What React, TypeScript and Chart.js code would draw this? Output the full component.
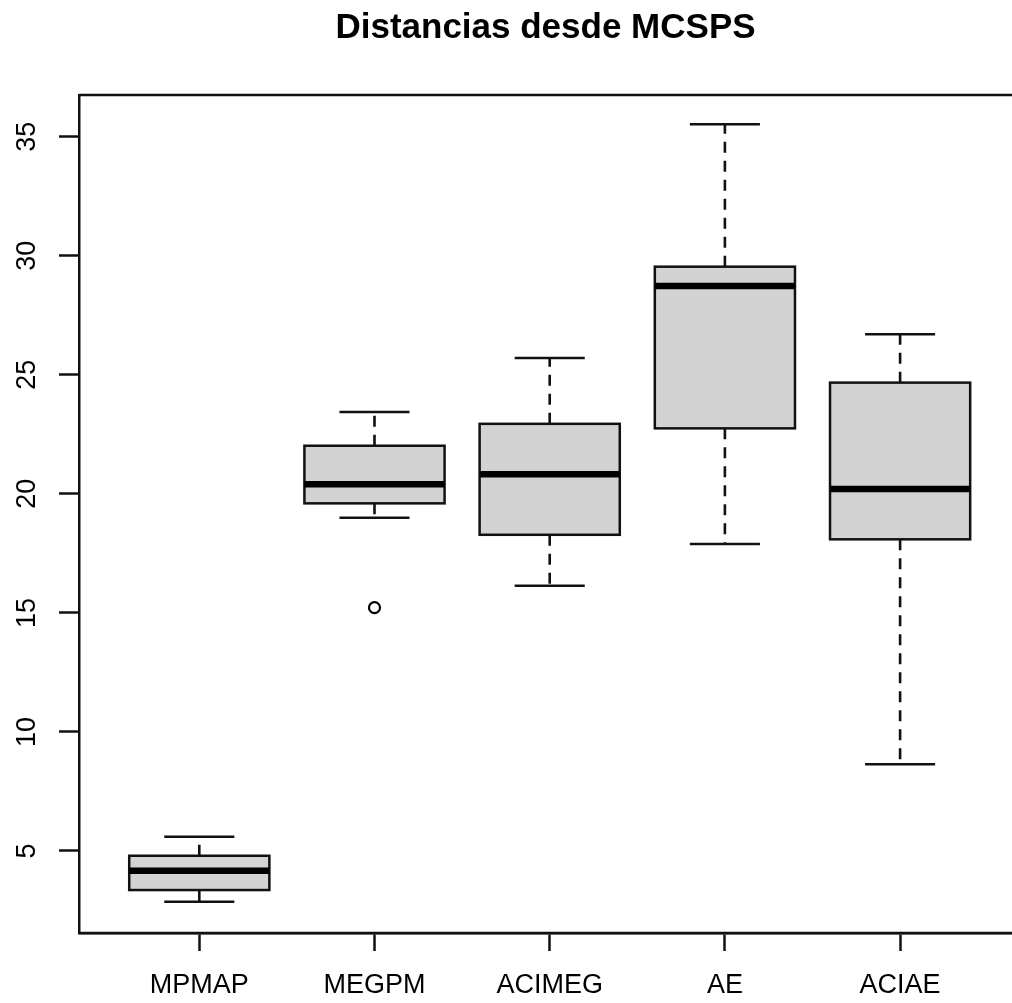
import React, { useEffect, useRef } from "react";
import { Chart, registerables } from "chart.js";

Chart.register(...registerables);

const title = "Distancias desde MCSPS";
const categories = ["MPMAP", "MEGPM", "ACIMEG", "AE", "ACIAE"];
const whiskerLow = [2.87, 19.0, 16.14, 17.89, 8.64];
const q1 = [3.36, 19.6, 18.28, 22.75, 18.09];
const median = [4.17, 20.4, 20.82, 28.73, 20.2];
const q3 = [4.8, 22.02, 22.94, 29.54, 24.67];
const whiskerHigh = [5.6, 23.44, 25.7, 35.52, 26.7];
const outlierGroup = [2];
const outlierValue = [15.22];
const yTicks = [5, 10, 15, 20, 25, 30, 35];

const FONT = "'Liberation Sans', Arial, sans-serif";
const BOX_HALF = 0.4;
const STAPLE_HALF = 0.2;

const boxPlugin = {
  id: "rbox",
  beforeDatasetsDraw(chart: any) {
    const { ctx, scales } = chart;
    const x = scales.x;
    const y = scales.y;
    ctx.save();
    categories.forEach((_, i) => {
      const pos = i + 1;
      const xc = x.getPixelForValue(pos);
      const xl = x.getPixelForValue(pos - BOX_HALF);
      const xr = x.getPixelForValue(pos + BOX_HALF);
      const sl = x.getPixelForValue(pos - STAPLE_HALF);
      const sr = x.getPixelForValue(pos + STAPLE_HALF);
      const yq1 = y.getPixelForValue(q1[i]);
      const yq3 = y.getPixelForValue(q3[i]);
      const ymed = y.getPixelForValue(median[i]);
      const ylo = y.getPixelForValue(whiskerLow[i]);
      const yhi = y.getPixelForValue(whiskerHigh[i]);
      ctx.strokeStyle = "#111";
      ctx.lineWidth = 2.6;
      ctx.setLineDash([11, 8]);
      ctx.beginPath();
      ctx.moveTo(xc, yq3);
      ctx.lineTo(xc, yhi);
      ctx.moveTo(xc, yq1);
      ctx.lineTo(xc, ylo);
      ctx.stroke();
      ctx.setLineDash([]);
      ctx.lineWidth = 2.5;
      ctx.beginPath();
      ctx.moveTo(sl, yhi);
      ctx.lineTo(sr, yhi);
      ctx.moveTo(sl, ylo);
      ctx.lineTo(sr, ylo);
      ctx.stroke();
      ctx.fillStyle = "#d3d3d3";
      ctx.fillRect(xl, yq3, xr - xl, yq1 - yq3);
      ctx.lineWidth = 2.5;
      ctx.strokeRect(xl, yq3, xr - xl, yq1 - yq3);
      ctx.strokeStyle = "#000";
      ctx.lineWidth = 6.5;
      ctx.beginPath();
      ctx.moveTo(xl, ymed);
      ctx.lineTo(xr, ymed);
      ctx.stroke();
    });
    const ca = chart.chartArea;
    ctx.strokeStyle = "#111";
    ctx.lineWidth = 2.5;
    ctx.beginPath();
    ctx.moveTo(ca.left, ca.top);
    ctx.lineTo(ca.right + 5, ca.top);
    ctx.moveTo(ca.left, ca.bottom);
    ctx.lineTo(ca.right + 5, ca.bottom);
    ctx.stroke();
    ctx.restore();
  },
};

export default function App() {
  const ref = useRef<HTMLCanvasElement | null>(null);
  useEffect(() => {
    if (!ref.current) return;
    const chart = new Chart(ref.current, {
      type: "scatter",
      data: {
        datasets: [
          {
            label: "outliers",
            data: outlierGroup.map((g, i) => ({ x: g, y: outlierValue[i] })),
            pointStyle: "circle",
            pointRadius: 5.5,
            pointBorderWidth: 2.2,
            pointBorderColor: "#000",
            pointBackgroundColor: "rgba(0,0,0,0)",
          },
        ],
      },
      options: {
        responsive: false,
        animation: false,
        layout: { autoPadding: false, padding: { left: 0, right: 0, top: 0, bottom: 0 } },
        plugins: {
          legend: { display: false },
          tooltip: { enabled: false },
          title: {
            display: true,
            fullSize: false,
            text: title,
            color: "#000",
            font: { family: FONT, size: 35, weight: "bold", lineHeight: 1.2 },
            padding: { top: 7, bottom: 46 },
          },
        },
        scales: {
          x: {
            type: "linear",
            min: 0.3134,
            max: 5.6387,
            afterBuildTicks: (s: any) => {
              s.ticks = categories.map((_, i) => ({ value: i + 1 }));
            },
            afterFit: (s: any) => {
              s.height = 70;
              s.paddingLeft = 0;
              s.paddingRight = 0;
            },
            grid: {
              drawOnChartArea: false,
              drawTicks: true,
              tickLength: 18,
              tickWidth: 2.5,
              tickColor: "#111",
            },
            border: { display: true, color: "#111", width: 2.5 },
            ticks: {
              autoSkip: false,
              maxRotation: 0,
              minRotation: 0,
              padding: 18,
              color: "#000",
              font: { family: FONT, size: 27 },
              callback: (v: any) => categories[Math.round(Number(v)) - 1] ?? "",
            },
          },
          y: {
            type: "linear",
            min: 1.556,
            max: 36.75,
            afterBuildTicks: (s: any) => {
              s.ticks = yTicks.map((v) => ({ value: v }));
            },
            afterFit: (s: any) => {
              s.width = 79;
            },
            grid: {
              drawOnChartArea: false,
              drawTicks: true,
              tickLength: 20,
              tickWidth: 2.5,
              tickColor: "#111",
            },
            border: { display: true, color: "#111", width: 2.5 },
            ticks: {
              minRotation: 90,
              maxRotation: 90,
              crossAlign: "center",
              padding: 16,
              color: "#000",
              font: { family: FONT, size: 27 },
              callback: (v: any) => String(v),
            },
          },
        },
      },
      plugins: [boxPlugin],
    } as any);
    return () => chart.destroy();
  }, []);
  return (
    <div style={{ position: "absolute", left: 0, top: 0, width: 1012, height: 1003, background: "#fff" }}>
      <canvas ref={ref} width={1012} height={1003} style={{ display: "block" }} />
    </div>
  );
}
